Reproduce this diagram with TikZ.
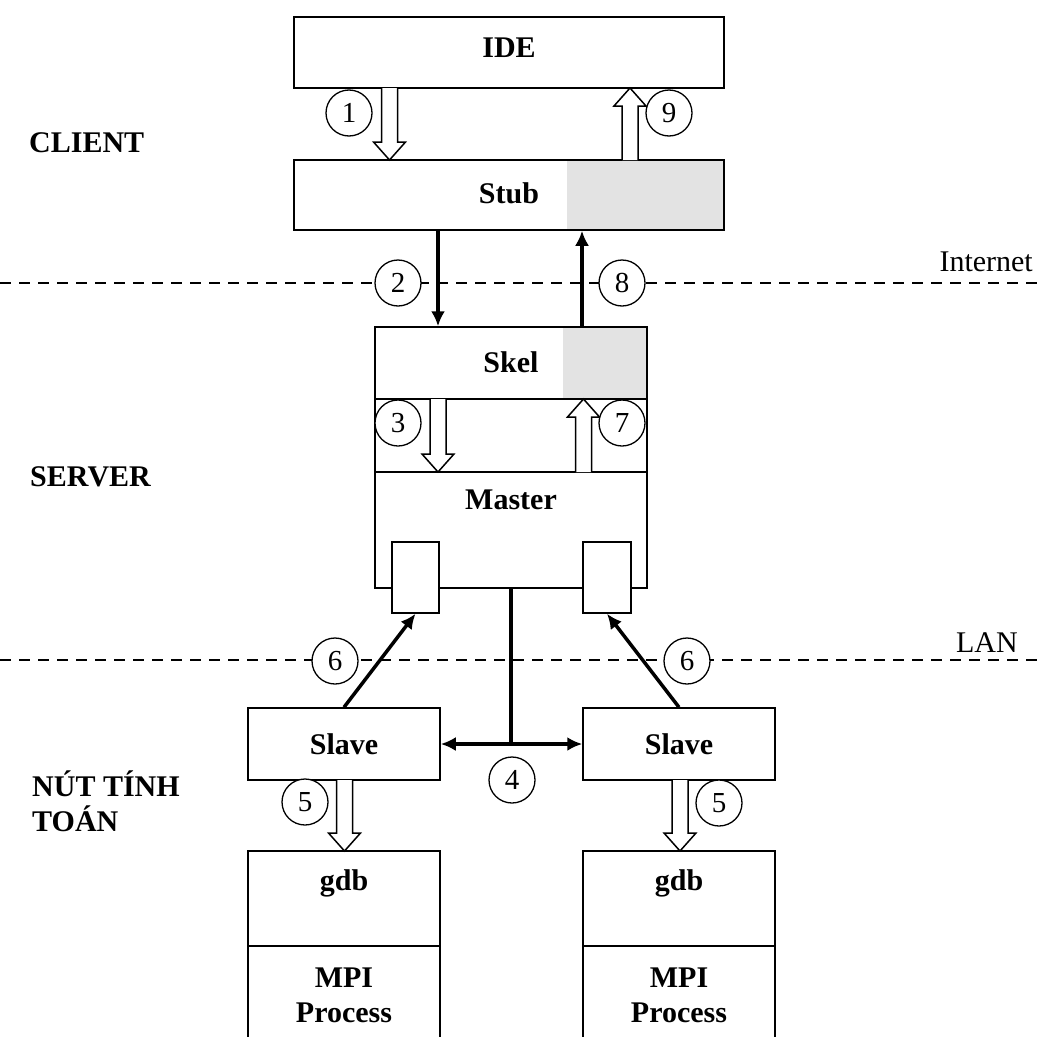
\documentclass[tikz,border=0pt]{standalone}
\usepackage{fontspec}
\setmainfont{Liberation Serif}
\usetikzlibrary{arrows.meta,calc}

\tikzset{
  box/.style={draw, line width=1.5pt, fill=white, inner sep=0pt},
  lbl/.style={font=\fontsize{30}{36}\selectfont\bfseries, inner sep=0pt},
  side/.style={font=\fontsize{30}{36}\selectfont\bfseries, inner sep=0pt, anchor=west, align=left},
  netlbl/.style={font=\fontsize{30}{36}\selectfont, inner sep=0pt, anchor=south east},
  num/.style={circle, draw, line width=1.3pt, fill=white, minimum size=46pt, inner sep=0pt, font=\fontsize{29}{30}\selectfont},
  thickarr/.style={line width=3.5pt, -{Latex[length=15pt,width=14pt]}},
  dblarr/.style={line width=3.5pt, {Latex[length=15pt,width=14pt]}-{Latex[length=15pt,width=14pt]}},
  plainthick/.style={line width=3.5pt},
  sepline/.style={line width=1.5pt, dash pattern=on 11pt off 8pt},
  hollow/.style={draw, line width=1.5pt, fill=white, line join=miter},
  shade/.style={fill=gray!22},
}

% hollow block arrows: x, y of start, y of tip
\newcommand\blkDown[3]{%
  \draw[hollow] ({#1-8},#2) -- ({#1-8},{#3-18}) -- ({#1-16},{#3-18}) -- (#1,#3)
    -- ({#1+16},{#3-18}) -- ({#1+8},{#3-18}) -- ({#1+8},#2);}
\newcommand\blkUp[3]{%
  \draw[hollow] ({#1-8},#2) -- ({#1-8},{#3+18}) -- ({#1-16},{#3+18}) -- (#1,#3)
    -- ({#1+16},{#3+18}) -- ({#1+8},{#3+18}) -- ({#1+8},#2);}

\begin{document}
\begin{tikzpicture}[x=1pt, y=-1pt]
\useasboundingbox[fill=white] (0,0) rectangle (1038,1036);

% separator lines
\coordinate (inetL) at (0,283);
\coordinate (inetR) at (1038,283);
\coordinate (lanL) at (0,660);
\coordinate (lanR) at (1038,660);
\draw[sepline] (inetL) -- (inetR);
\draw[sepline] (lanL) -- (lanR);
\node[netlbl] (inet) at (1033,272) {Internet};
\node[netlbl] (lan) at (1018,653) {LAN};

% side labels
\node[side] (client) at (29,143) {CLIENT};
\node[side] (server) at (30,477) {SERVER};
\node[side, anchor=north west] (nut) at (32,771) {NÚT TÍNH\\[-1pt]TOÁN};

% client boxes
\node[box, lbl, minimum width=430pt, minimum height=71pt] (ide) at (509,52.5) {};
\node[lbl] (ideT) at (509,48) {IDE};
\node[box, minimum width=430pt, minimum height=70pt] (stub) at (509,195) {};
\fill[shade] (567,160.75) rectangle (723.25,229.25);
\node[lbl] (stubT) at (509,193) {Stub};

% server
\node[box, minimum width=272pt, minimum height=73pt] (link) at (511,435.5) {};
\node[box, minimum width=272pt, minimum height=116pt] (master) at (511,530) {};
\node[lbl] (masterT) at (511,500) {Master};
\node[box, minimum width=272pt, minimum height=72pt] (skel) at (511,363) {};
\fill[shade] (563,327.75) rectangle (646.25,398.25);
\node[lbl] (skelT) at (511,362) {Skel};
\node[box, minimum width=47pt, minimum height=71pt] (smallL) at (415.5,577.5) {};
\node[box, minimum width=48pt, minimum height=71pt] (smallR) at (607,577.5) {};

% compute nodes
\node[box, lbl, minimum width=192pt, minimum height=72pt] (slaveL) at (344,744) {Slave};
\node[box, lbl, minimum width=192pt, minimum height=72pt] (slaveR) at (679,744) {Slave};
\node[box, minimum width=192pt, minimum height=95pt] (gdbL) at (344,898.5) {};
\node[box, minimum width=192pt, minimum height=104pt] (mpiL) at (344,998) {};
\node[box, minimum width=192pt, minimum height=95pt] (gdbR) at (679,898.5) {};
\node[box, minimum width=192pt, minimum height=104pt] (mpiR) at (679,998) {};
\node[lbl] (gdbLT) at (344,883) {gdb};
\node[lbl] (gdbRT) at (679,883) {gdb};
\node[lbl, align=center] (mpiLT) at (344,995) {MPI\\[-1pt]Process};
\node[lbl, align=center] (mpiRT) at (679,995) {MPI\\[-1pt]Process};

% hollow arrows
\blkDown{389.5}{88}{160}
\blkUp{630}{160}{88}
\blkDown{438}{399}{472}
\blkUp{583.5}{472}{399}
\blkDown{344.5}{780}{851}
\blkDown{680}{780}{851}

% thick arrows
\draw[thickarr] (438,0 |- stub.south) -- (438,0 |- skel.north);
\draw[thickarr] (582,0 |- skel.north) -- (582,0 |- stub.south);
\draw[thickarr] (slaveL.north) -- (smallL.south);
\draw[thickarr] (slaveR.north) -- (smallR.south);
\coordinate (junc) at (master.south |- slaveL.east);
\draw[plainthick] (master.south) -- (junc);
\draw[dblarr] (slaveL.east) -- (slaveR.west);

% numbered circles
\node[num] (c1) at (349,113) {1};
\node[num] (c9) at (669,113) {9};
\node[num] (c2) at (398,283) {2};
\node[num] (c8) at (622,283) {8};
\node[num] (c3) at (398,423) {3};
\node[num] (c7) at (622,423) {7};
\node[num] (c6a) at (335,661) {6};
\node[num] (c6b) at (687,661) {6};
\node[num] (c4) at (512,780) {4};
\node[num] (c5a) at (305,802) {5};
\node[num] (c5b) at (719,803) {5};
\end{tikzpicture}
\end{document}
